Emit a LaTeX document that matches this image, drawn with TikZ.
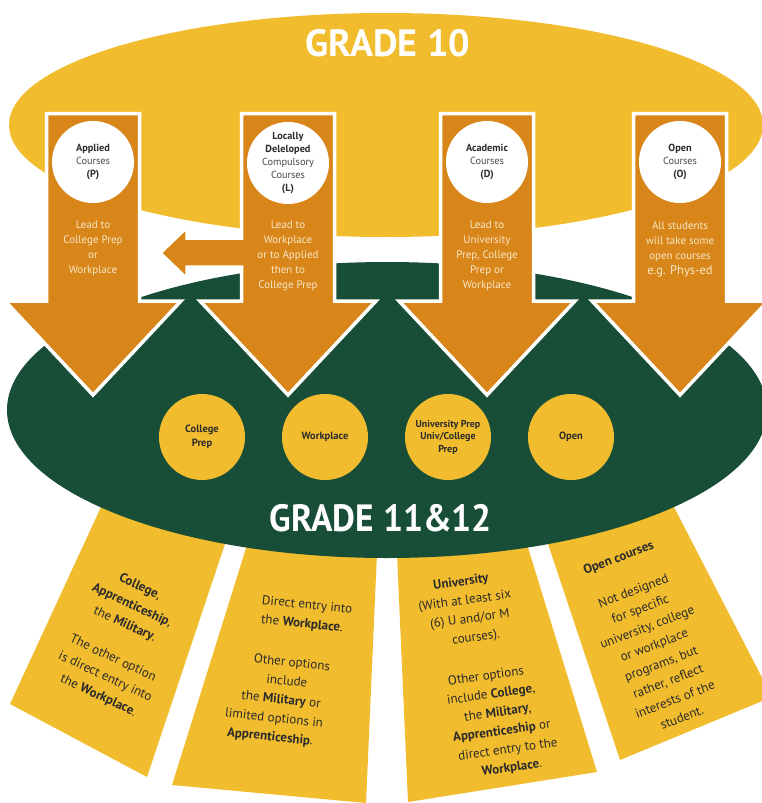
\documentclass[tikz,border=0pt]{standalone}
\usepackage{fontspec}
\setmainfont{PT Sans}
\definecolor{gyel}{HTML}{F1BC2E}
\definecolor{gorg}{HTML}{D8861A}
\definecolor{ggrn}{HTML}{184E37}
\definecolor{gtxt}{HTML}{2B2B2B}
\definecolor{ggray}{HTML}{4A4A4A}
\definecolor{gcream}{HTML}{F8E7C6}
\newcommand\sh[2]{\hbox{\kern#1pt\hbox{#2}\kern-#1pt}}
\begin{document}
\begin{tikzpicture}[x=1pt,y=1pt,
  arrowbox/.style={fill=gorg, draw=white, line width=3.5pt},
  wcirc/.style={circle, fill=white, minimum size=82pt, inner sep=0pt, text=gtxt, align=center, font=\fontsize{10.3}{12.8}\selectfont},
  ycirc/.style={circle, fill=gyel, minimum size=86pt, inner sep=0pt, text=gtxt, align=center, font=\bfseries\fontsize{10.5}{13.5}\selectfont},
  shafttxt/.style={text=gcream, align=center, anchor=north, inner sep=0pt, font=\fontsize{11}{15}\selectfont},
  paneltxt/.style={text=gtxt, inner sep=0pt, align=center},
  panel/.style={fill=gyel},
  title/.style={text=white, font=\bfseries\fontsize{38}{40}\selectfont, inner sep=0pt}
]
\useasboundingbox (0,0) rectangle (761,-803);
\fill[white] (0,0) rectangle (761,-803);
% top ellipse
\fill[gyel] (386,-125) ellipse [x radius=377, y radius=112];
% bottom panels
\fill[panel] (113,-481) -- (10,-704) -- (147,-777) -- (237,-508) -- cycle;
\fill[panel] (262,-497) -- (172,-785) -- (366,-803) -- (379,-508) -- cycle;
\fill[panel] (395,-509) -- (408,-802) -- (597,-772) -- (514,-502) -- cycle;
\fill[panel] (533,-499) -- (620,-760) -- (772,-697) -- (658,-476) -- cycle;
% green ellipse
\fill[ggrn] (387,-410) ellipse [x radius=380, y radius=148];
% yellow circles
\node[ycirc] (y1) at (202,-437) {College\\Prep};
\node[ycirc] (y2) at (325,-437) {Workplace};
\node[ycirc, font=\bfseries\fontsize{10}{12.5}\selectfont] (y3) at (448,-437) {University Prep\\Univ/College\\Prep};
\node[ycirc] (y4) at (571,-437) {Open};
% titles
\node[title] (g10) at (388,-43) {GRADE 10};
\node[title, xscale=0.93] (g11) at (381,-518) {GRADE 11\&12};
% down arrows
\foreach \cx in {93,487,680}{
  \filldraw[arrowbox] ({\cx-46.5},-113.5) -- ({\cx-46.5},-301) -- ({\cx-88},-301) -- (\cx,-395)
    -- ({\cx+88},-301) -- ({\cx+46.5},-301) -- ({\cx+46.5},-113.5) -- cycle;
}
\filldraw[arrowbox] (241.5,-113.5) -- (241.5,-238) -- (187,-238) -- (187,-227) -- (160,-253)
  -- (187,-279) -- (187,-267) -- (241.5,-267) -- (241.5,-301) -- (200,-301) -- (288,-395)
  -- (376,-301) -- (334.5,-301) -- (334.5,-113.5) -- cycle;
% white circles
\node[wcirc] (ca) at (93,-162) {\textbf{Applied}\\\textcolor{ggray}{Courses}\\\textbf{(P)}};
\node[wcirc] (cl) at (288,-163) {\textbf{Locally}\\\textbf{Deleloped}\\\textcolor{ggray}{Compulsory}\\\textcolor{ggray}{Courses}\\\textbf{(L)}};
\node[wcirc] (cd) at (487,-162) {\textbf{Academic}\\\textcolor{ggray}{Courses}\\\textbf{(D)}};
\node[wcirc] (co) at (680,-162) {\textbf{Open}\\\textcolor{ggray}{Courses}\\\textbf{(O)}};
% shaft texts
\node[shafttxt] (ta) at (93,-221) {Lead to\\College Prep\\or\\Workplace};
\node[shafttxt] (tl) at (288,-221) {Lead to\\Workplace\\or to Applied\\then to\\College Prep};
\node[shafttxt] (td) at (487,-221) {Lead to\\University\\Prep, College\\Prep or\\Workplace};
\node[shafttxt] (to) at (680,-221) {All students\\will take some\\open courses\\{\fontsize{12.5}{15}\selectfont e.g. Phys-ed}};
% panel texts
\node[paneltxt, rotate=-25, font=\fontsize{13}{20}\selectfont] (pa) at (119,-641.5)
  {\sh{-4}{\textbf{College},}\\\sh{-3.6}{\textbf{Apprenticeship},}\\\sh{-1.9}{the \textbf{Military}.}\\[16pt]
   \sh{1.6}{The other option}\\\sh{2.4}{is direct entry into}\\\sh{4.1}{the \textbf{Workplace}.}};
\node[paneltxt, rotate=-6, font=\fontsize{13}{19}\selectfont] (pb) at (288.5,-671.5)
  {\sh{11.6}{Direct entry into}\\\sh{8.5}{the \textbf{Workplace}.}\\[21pt]
   \sh{2.6}{Other options}\\\sh{-0.6}{include}\\\sh{-4.4}{the \textbf{Military} or}\\
   \sh{-9.4}{limited options in}\\\sh{-11.5}{\textbf{Apprenticeship}.}};
\node[paneltxt, rotate=8, font=\fontsize{13}{18.9}\selectfont] (pc) at (486.5,-675.5)
  {\sh{-12.3}{\textbf{University}}\\\sh{-11.1}{(With at least six}\\\sh{-8.5}{(6) U and/or M}\\\sh{-5.1}{courses).}\\[21pt]
   \sh{-0.6}{Other options}\\\sh{1.8}{include \textbf{College},}\\\sh{6.1}{the \textbf{Military},}\\
   \sh{7.4}{\textbf{Apprenticeship} or}\\\sh{10.9}{direct entry to the}\\\sh{12.3}{\textbf{Workplace}.}};
\node[paneltxt, rotate=21, font=\fontsize{13}{19.4}\selectfont] (pd) at (651,-637)
  {\sh{-2}{\textbf{Open courses}}\\[17pt]Not designed\\for specific\\university, college\\or workplace\\
   programs, but\\rather, reflect\\interests of the\\student.};
\end{tikzpicture}
\end{document}
